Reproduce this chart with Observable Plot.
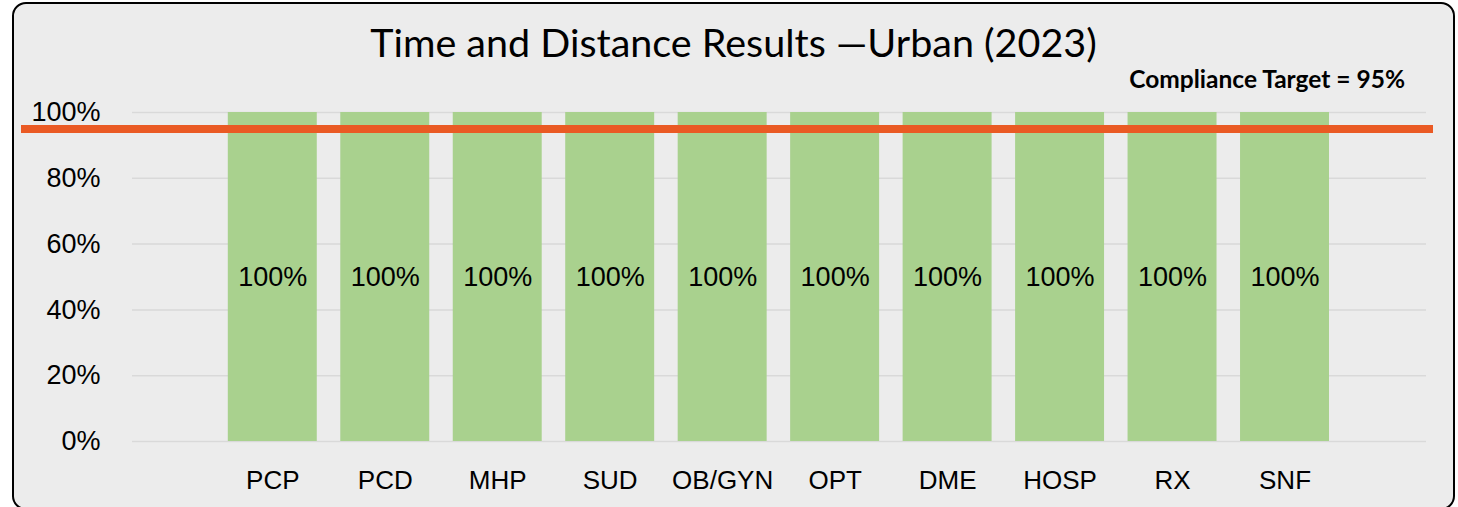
<!DOCTYPE html>
<html>
<head>
<meta charset="utf-8">
<script src="https://cdn.jsdelivr.net/npm/d3@7"></script>
<script src="https://cdn.jsdelivr.net/npm/@observablehq/plot@0.6"></script>
<style>
  body { margin: 0; background: #fff; }
  #wrap { position: relative; width: 1458px; height: 507px; overflow: hidden; }
  #box { position: absolute; left: 12px; top: 2px; width: 1443px; height: 508px; box-sizing: border-box;
         border: 2.5px solid #000; border-radius: 14px; background: #ececec; }
  #title { position: absolute; left: 12px; width: 1443px; top: 22px; text-align: center;
           font-family: Lato, "Open Sans", sans-serif; font-size: 39.5px; line-height: 1; color: #000; }
  #target { position: absolute; right: 53px; top: 67px; font-family: Lato, "Open Sans", sans-serif;
            font-weight: bold; font-size: 24.5px; line-height: 1; color: #000; }
  #chart { position: absolute; left: 0; top: 0; }
</style>
</head>
<body>
<div id="wrap">
  <div id="box"></div>
  <div id="chart"></div>
  <div id="title">Time and Distance Results —Urban (2023)</div>
  <div id="target">Compliance Target = 95%</div>
</div>
<script>
const categories = ["PCP", "PCD", "MHP", "SUD", "OB/GYN", "OPT", "DME", "HOSP", "RX", "SNF"];
const values = [1, 1, 1, 1, 1, 1, 1, 1, 1, 1];
const target = 0.95;
const yTicks = [0, 0.2, 0.4, 0.6, 0.8, 1.0];

const data = categories.map((c, i) => ({cat: c, value: values[i]}));
const pct = d3.format(".0%");

const chart = Plot.plot({
  width: 1458,
  height: 507,
  marginTop: 112,
  marginBottom: 66,
  marginLeft: 132,
  marginRight: 32,
  style: {background: "transparent", fontFamily: "'Liberation Sans', Arial, sans-serif", fontSize: "26px", color: "#000"},
  x: {domain: categories, range: [204.3, 1352.5], padding: 0.209, round: false},
  y: {domain: [0, 1]},
  marks: [
    Plot.gridY(yTicks, {stroke: "#d9d9d9", strokeOpacity: 1, strokeWidth: 1.5}),
    Plot.axisY(yTicks, {tickFormat: pct, tickSize: 0, tickPadding: 32, label: null, fontSize: 27}),
    Plot.axisX({tickSize: 0, tickPadding: 29, label: null, fontSize: 26}),
    Plot.barY(data, {x: "cat", y: "value", fill: "#a9d18e"}),
    Plot.text(data, {x: "cat", y: d => d.value / 2, text: d => pct(d.value), fontSize: 27, fill: "#000"}),
    Plot.ruleY([target], {stroke: "#ea5a24", strokeWidth: 8, insetLeft: -111, insetRight: -7})
  ]
});
document.getElementById("chart").appendChild(chart);
</script>
</body>
</html>
